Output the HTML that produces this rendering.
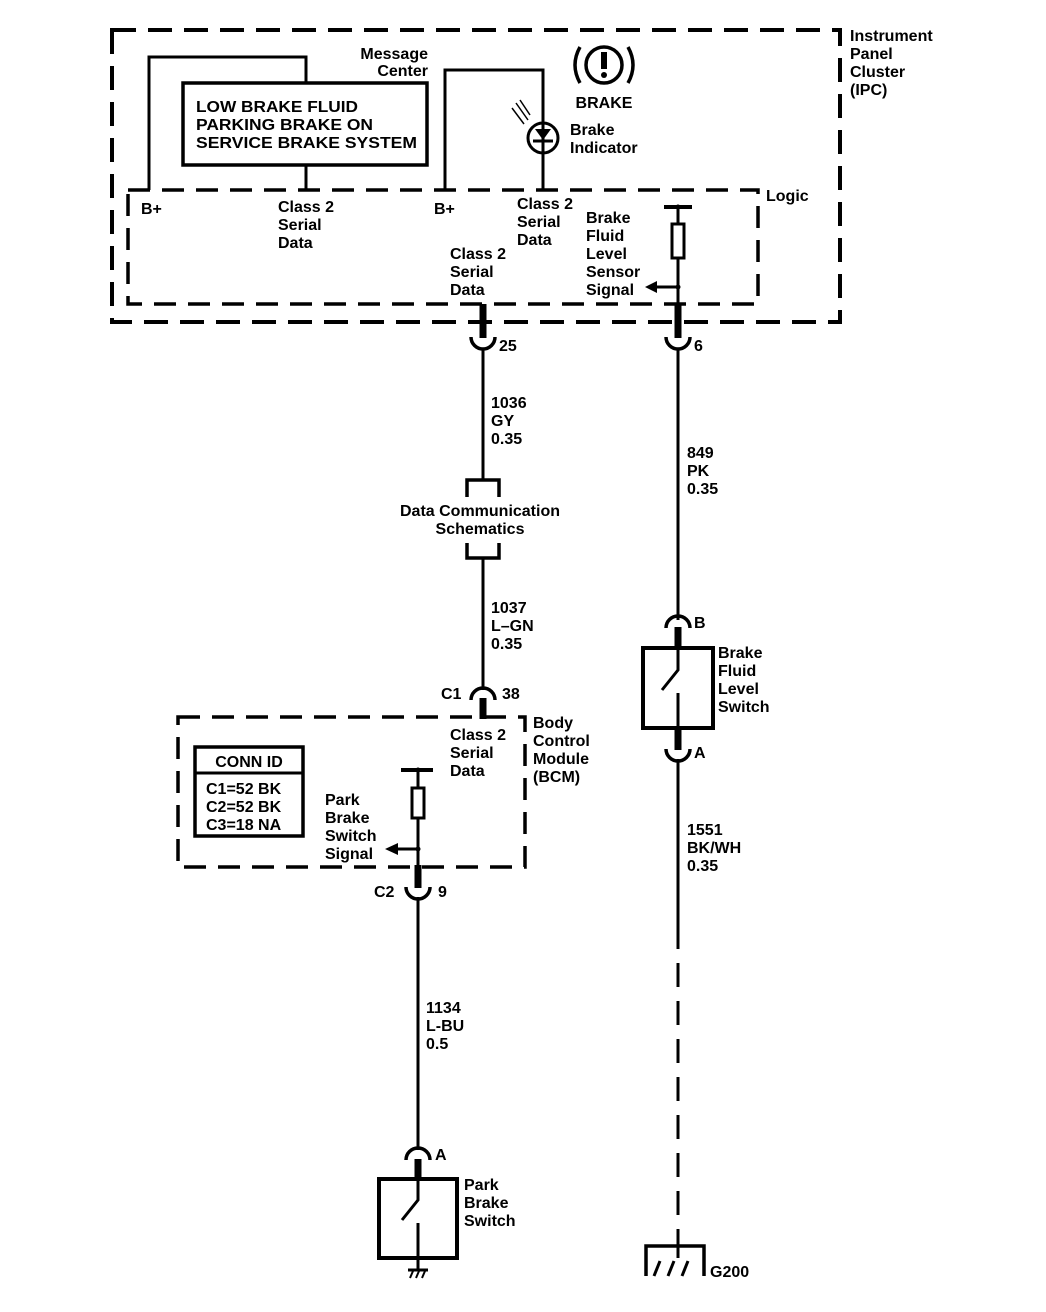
<!DOCTYPE html>
<html><head><meta charset="utf-8"><style>
html,body{margin:0;padding:0;background:#fff}
svg{display:block}
text{font-family:"Liberation Sans",Arial,sans-serif;font-size:16px;font-weight:bold;fill:#000}
</style></head><body>
<svg width="1046" height="1312" viewBox="0 0 1046 1312" xmlns="http://www.w3.org/2000/svg">
<g fill="none" stroke="#000">
<rect x="112" y="30" width="728" height="292" stroke-width="4" stroke-dasharray="24 12"/>
<rect x="128" y="190" width="630" height="114" stroke-width="3.5" stroke-dasharray="22 12"/>
<rect x="183" y="83" width="244" height="82" stroke-width="3.5"/>
<polyline points="149,190 149,57 306,57 306,83" stroke-width="3"/>
<line x1="306" y1="165" x2="306" y2="190" stroke-width="3"/>
<polyline points="445,190 445,70 543,70 543,190" stroke-width="3"/>
<circle cx="543" cy="138" r="15" stroke-width="3" fill="#fff"/>
<line x1="543" y1="118" x2="543" y2="158" stroke-width="3"/>
<line x1="533" y1="141" x2="553" y2="141" stroke-width="3"/>
<line x1="516" y1="103" x2="528" y2="120" stroke-width="1.5"/>
<line x1="512" y1="108" x2="524" y2="124" stroke-width="1.5"/>
<line x1="520" y1="100" x2="530" y2="115" stroke-width="1.5"/>
<circle cx="604" cy="65" r="18" stroke-width="3.5"/>
<path d="M580,47 Q570,65 580,83" stroke-width="3.5"/>
<path d="M628,47 Q638,65 628,83" stroke-width="3.5"/>
<line x1="664" y1="207" x2="692" y2="207" stroke-width="4"/>
<line x1="678" y1="207" x2="678" y2="224" stroke-width="3"/>
<rect x="672" y="224" width="12" height="34" stroke-width="3"/>
<line x1="678" y1="258" x2="678" y2="322" stroke-width="3"/>
<line x1="678" y1="287" x2="656" y2="287" stroke-width="3"/>
<line x1="483" y1="304" x2="483" y2="338" stroke-width="7"/>
<line x1="678" y1="304" x2="678" y2="338" stroke-width="7"/>
<path d="M471,337 A12,12 0 0 0 495,337" stroke-width="3.5"/>
<path d="M666,337 A12,12 0 0 0 690,337" stroke-width="3.5"/>
<line x1="483" y1="348" x2="483" y2="480" stroke-width="3"/>
<line x1="678" y1="348" x2="678" y2="620" stroke-width="3"/>
<polyline points="467,497 467,480 499,480 499,497" stroke-width="3.5"/>
<polyline points="467,543 467,558 499,558 499,543" stroke-width="3.5"/>
<line x1="483" y1="558" x2="483" y2="690" stroke-width="3"/>
<path d="M471,700 A12,12 0 0 1 495,700" stroke-width="3.5"/>
<line x1="483" y1="698" x2="483" y2="719" stroke-width="7"/>
<rect x="178" y="717" width="347" height="150" stroke-width="3.5" stroke-dasharray="22 12"/>
<rect x="195" y="747" width="108" height="89" stroke-width="3.5"/>
<line x1="195" y1="773" x2="303" y2="773" stroke-width="3"/>
<line x1="401" y1="770" x2="433" y2="770" stroke-width="4"/>
<line x1="418" y1="770" x2="418" y2="788" stroke-width="3"/>
<rect x="412" y="788" width="12" height="30" stroke-width="3"/>
<line x1="418" y1="818" x2="418" y2="867" stroke-width="3"/>
<line x1="418" y1="849" x2="398" y2="849" stroke-width="3"/>
<line x1="418" y1="865" x2="418" y2="888" stroke-width="7"/>
<path d="M406,887 A12,12 0 0 0 430,887" stroke-width="3.5"/>
<line x1="418" y1="897" x2="418" y2="1150" stroke-width="3"/>
<path d="M406,1160 A12,12 0 0 1 430,1160" stroke-width="3.5"/>
<line x1="418" y1="1159" x2="418" y2="1180" stroke-width="7"/>
<rect x="379" y="1179" width="78" height="79" stroke-width="4"/>
<polyline points="418,1180 418,1200 402,1220" stroke-width="3"/>
<line x1="418" y1="1223" x2="418" y2="1270" stroke-width="3"/>
<line x1="408" y1="1270" x2="428" y2="1270" stroke-width="3"/>
<line x1="410" y1="1278" x2="413" y2="1271" stroke-width="2"/>
<line x1="416" y1="1278" x2="419" y2="1271" stroke-width="2"/>
<line x1="422" y1="1278" x2="425" y2="1271" stroke-width="2"/>
<path d="M666,628 A12,12 0 0 1 690,628" stroke-width="3.5"/>
<line x1="678" y1="627" x2="678" y2="650" stroke-width="7"/>
<rect x="643" y="648" width="70" height="80" stroke-width="4"/>
<polyline points="678,650 678,670 662,690" stroke-width="3"/>
<line x1="678" y1="693" x2="678" y2="728" stroke-width="3"/>
<line x1="678" y1="726" x2="678" y2="750" stroke-width="7"/>
<path d="M666,749 A12,12 0 0 0 690,749" stroke-width="3.5"/>
<line x1="678" y1="759" x2="678" y2="925" stroke-width="3"/>
<line x1="678" y1="925" x2="678" y2="1245" stroke-width="3" stroke-dasharray="24 14"/>
<polyline points="646,1276 646,1246 704,1246 704,1276" stroke-width="3.5"/>
<line x1="678" y1="1246" x2="678" y2="1258" stroke-width="3"/>
<line x1="660" y1="1261" x2="654" y2="1276" stroke-width="3"/>
<line x1="674" y1="1261" x2="668" y2="1276" stroke-width="3"/>
<line x1="688" y1="1261" x2="682" y2="1276" stroke-width="3"/>
</g>
<g fill="#000">
<polygon points="645,287 657,281 657,293"/>
<polygon points="385,849 398,843 398,855"/>
<circle cx="678" cy="207" r="2.5"/><circle cx="678" cy="287" r="2.5"/>
<circle cx="418" cy="770" r="2.5"/><circle cx="418" cy="849" r="2.5"/>
<rect x="601" y="52" width="6" height="17"/><circle cx="604" cy="75" r="3"/>
<polygon points="535,129 551,129 543,140"/>
</g>
<text x="850" y="41">Instrument</text><text x="850" y="59">Panel</text><text x="850" y="77">Cluster</text><text x="850" y="95">(IPC)</text>
<text x="428" y="59" text-anchor="end">Message</text><text x="428" y="76" text-anchor="end">Center</text>
<text x="196" y="112" font-size="17" textLength="162" lengthAdjust="spacingAndGlyphs">LOW BRAKE FLUID</text>
<text x="196" y="130" font-size="17" textLength="177" lengthAdjust="spacingAndGlyphs">PARKING BRAKE ON</text>
<text x="196" y="148" font-size="17" textLength="221" lengthAdjust="spacingAndGlyphs">SERVICE BRAKE SYSTEM</text>
<text x="604" y="108" text-anchor="middle">BRAKE</text>
<text x="570" y="135">Brake</text><text x="570" y="153">Indicator</text>
<text x="766" y="201">Logic</text>
<text x="141" y="214">B+</text><text x="434" y="214">B+</text>
<text x="278" y="212">Class 2</text><text x="278" y="230">Serial</text><text x="278" y="248">Data</text>
<text x="517" y="209">Class 2</text><text x="517" y="227">Serial</text><text x="517" y="245">Data</text>
<text x="450" y="259">Class 2</text><text x="450" y="277">Serial</text><text x="450" y="295">Data</text>
<text x="586" y="223">Brake</text><text x="586" y="241">Fluid</text><text x="586" y="259">Level</text><text x="586" y="277">Sensor</text><text x="586" y="295">Signal</text>
<text x="499" y="351">25</text><text x="694" y="351">6</text>
<text x="491" y="408">1036</text><text x="491" y="426">GY</text><text x="491" y="444">0.35</text>
<text x="687" y="458">849</text><text x="687" y="476">PK</text><text x="687" y="494">0.35</text>
<text x="480" y="516" text-anchor="middle">Data Communication</text><text x="480" y="534" text-anchor="middle">Schematics</text>
<text x="491" y="613">1037</text><text x="491" y="631">L–GN</text><text x="491" y="649">0.35</text>
<text x="694" y="628">B</text>
<text x="718" y="658">Brake</text><text x="718" y="676">Fluid</text><text x="718" y="694">Level</text><text x="718" y="712">Switch</text>
<text x="441" y="699">C1</text><text x="502" y="699">38</text>
<text x="533" y="728">Body</text><text x="533" y="746">Control</text><text x="533" y="764">Module</text><text x="533" y="782">(BCM)</text>
<text x="450" y="740">Class 2</text><text x="450" y="758">Serial</text><text x="450" y="776">Data</text>
<text x="249" y="767" text-anchor="middle">CONN ID</text>
<text x="206" y="794">C1=52 BK</text><text x="206" y="812">C2=52 BK</text><text x="206" y="830">C3=18 NA</text>
<text x="325" y="805">Park</text><text x="325" y="823">Brake</text><text x="325" y="841">Switch</text><text x="325" y="859">Signal</text>
<text x="694" y="758">A</text>
<text x="374" y="897">C2</text><text x="438" y="897">9</text>
<text x="687" y="835">1551</text><text x="687" y="853">BK/WH</text><text x="687" y="871">0.35</text>
<text x="426" y="1013">1134</text><text x="426" y="1031">L-BU</text><text x="426" y="1049">0.5</text>
<text x="435" y="1160">A</text>
<text x="464" y="1190">Park</text><text x="464" y="1208">Brake</text><text x="464" y="1226">Switch</text>
<text x="710" y="1277">G200</text>
</svg>
</body></html>
